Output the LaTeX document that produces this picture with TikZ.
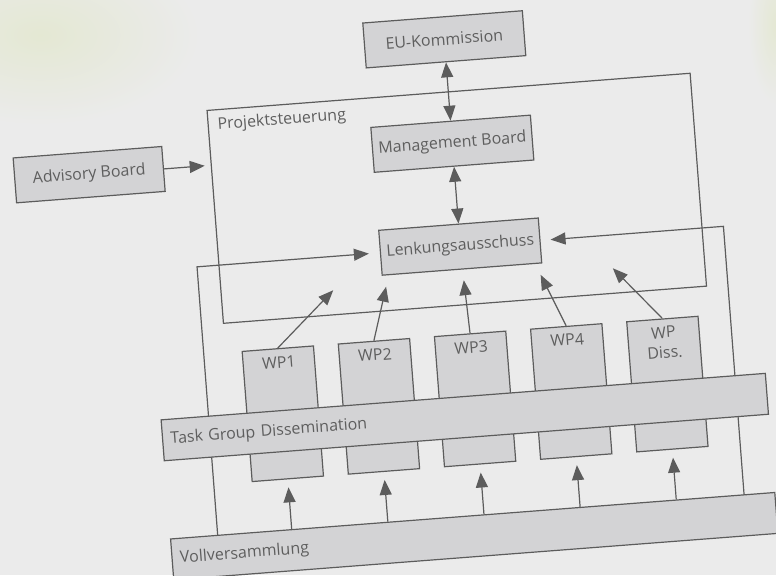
\documentclass[tikz,border=0pt]{standalone}
\usepackage{fontspec}
\setmainfont{Open Sans}
\usepackage{tikz}
\usetikzlibrary{arrows.meta, positioning}
\definecolor{paper}{HTML}{EBEBEB}
\definecolor{tint}{HTML}{E4E8D3}
\definecolor{boxfill}{HTML}{D3D3D5}
\definecolor{linegray}{HTML}{5C5C5C}
\definecolor{textgray}{HTML}{5E5E5E}

\begin{document}
\begin{tikzpicture}[x=0.5pt, y=-0.5pt,
    box/.style={draw=linegray, fill=boxfill, line width=0.6pt, minimum width=80pt, minimum height=22.5pt, inner sep=0pt, text=textgray, font=\fontsize{8}{10}\selectfont},
    wpbox/.style={box, minimum width=35.75pt, minimum height=65.25pt},
    wplabel/.style={inner sep=0pt, text=textgray, align=center, font=\fontsize{8}{10}\selectfont},
    bar/.style={box, minimum height=20.5pt, text width=295pt, inner xsep=4pt, align=left},
    frame/.style={draw=linegray, line width=0.6pt, inner sep=0pt},
    arr/.style={draw=linegray, line width=0.6pt, -{Triangle[length=7.5pt,width=6pt]}},
    biarr/.style={arr, {Triangle[length=7.5pt,width=6pt]}-{Triangle[length=7.5pt,width=6pt]}}]
    \useasboundingbox (0,0) rectangle (776,575);
    \fill[paper] (0,0) rectangle (776,575);
    \shade[inner color=tint, outer color=paper] (40,35) ellipse [x radius=80pt, y radius=45pt];
    \shade[inner color=tint, outer color=paper] (776,25) ellipse [x radius=14pt, y radius=40pt];
    \clip (0,0) rectangle (776,575);
    \begin{scope}[rotate=4.4, transform shape]
        % Nodes
        \node[frame, minimum width=242.25pt, minimum height=106.75pt] (steuer) at (440.25,232.75) {};
        \node[wplabel, anchor=west, xshift=4.85pt, yshift=-8.15pt] (steuerl) at (steuer.north west) {Projektsteuerung};
        \node[box] (mgmt) at (440,178) {Management Board};
        \node[box, above=29.25pt of mgmt] (eu) {EU-Kommission};
        \node[box, below=28.5pt of mgmt] (lenk) {Lenkungsausschuss};
        \node[box, minimum width=74.5pt] (advisory) at (75.5,181) {Advisory Board};
        \node[wpbox] (wp1) at (250.25,434.25) {};
        \node[wpbox, right=11.875pt of wp1] (wp2) {};
        \node[wpbox, right=11.875pt of wp2] (wp3) {};
        \node[wpbox, right=11.875pt of wp3] (wp4) {};
        \node[wpbox, right=11.875pt of wp4] (wp5) {};
        \node[wplabel, below=4pt of wp1.north] (wp1l) {WP1};
        \node[wplabel, below=4pt of wp2.north] (wp2l) {WP2};
        \node[wplabel, below=4pt of wp3.north] (wp3l) {WP3};
        \node[wplabel, below=4pt of wp4.north] (wp4l) {WP4};
        \node[wplabel, below=4pt of wp5.north] (wp5l) {WP\\Diss.};
        \coordinate (lin1) at (310,315);
        \coordinate (lin2) at (363,315.5);
        \coordinate (lin3) at (441,315);
        \coordinate (lin4) at (518,315.5);
        \coordinate (lin5) at (590.5,314.5);
        \coordinate (lfoot) at (176,551);
        \coordinate (rfoot) at (704,551);
        % Arrows
        \draw[arr, shorten >=3pt] (advisory.east) -- (advisory.east -| steuer.west);
        \draw[biarr] (eu) -- (mgmt);
        \draw[biarr] (mgmt) -- (lenk);
        \draw[arr] (wp1.north) -- (lin1);
        \draw[arr] (wp2.north) -- (lin2);
        \draw[arr] (wp3.north) -- (lin3);
        \draw[arr] (wp4.north) -- (lin4);
        \draw[arr] (wp5.north) -- (lin5);
        \draw[arr, shorten >=5.5pt] (lfoot) |- (lenk.west);
        \draw[arr, shorten >=5pt] (rfoot) |- (lenk.east);
        % Bars
        \node[bar] (tg) at (431.45,451.5) {Task Group Dissemination};
        \node[bar] (vv) at (431.75,571) {Vollversammlung};
        \draw[arr, shorten >=4pt] (wp1.south |- vv.north) -- (wp1.south);
        \draw[arr, shorten >=4pt] (wp2.south |- vv.north) -- (wp2.south);
        \draw[arr, shorten >=4pt] (wp3.south |- vv.north) -- (wp3.south);
        \draw[arr, shorten >=4pt] (wp4.south |- vv.north) -- (wp4.south);
        \draw[arr, shorten >=4pt] (wp5.south |- vv.north) -- (wp5.south);
    \end{scope}
\end{tikzpicture}
\end{document}
